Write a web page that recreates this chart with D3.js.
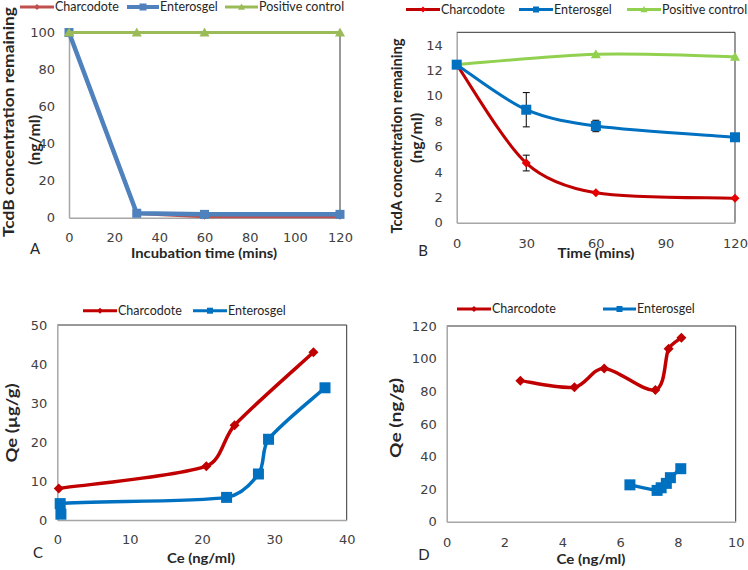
<!DOCTYPE html>
<html><head><meta charset="utf-8">
<script src="https://cdn.jsdelivr.net/npm/d3@7"></script>
<style>body{margin:0;background:#fff}svg{display:block}</style>
</head><body>
<svg id="c" width="748" height="570"></svg>
<script>
// ---------- Panel A data ----------
const timeA = [0, 30, 60, 120];
const tcdbCharcodote = [100, 2.2, 0.5, 0.5];
const tcdbEnterosgel = [100, 2.4, 1.8, 1.8];
const tcdbPositive = [100, 100, 100, 100];
const ticksAx = [0, 20, 40, 60, 80, 100, 120];
const ticksAy = [0, 20, 40, 60, 80, 100];
// ---------- Panel B data ----------
const timeB = [0, 30, 60, 120];
const tcdaCharcodote = [12.45, 4.7, 2.36, 1.92];
const tcdaCharcodoteErr = [0, 0.62, 0, 0];
const tcdaEnterosgel = [12.45, 8.9, 7.62, 6.73];
const tcdaEnterosgelErr = [0, 1.35, 0.45, 0];
const timeBPositive = [0, 60, 120];
const tcdaPositive = [12.45, 13.27, 13.08];
const ticksBx = [0, 30, 60, 90, 120];
const ticksBy = [0, 2, 4, 6, 8, 10, 12, 14];
// ---------- Panel C data ----------
const ceCharcodoteC = [0.2, 20.6, 24.5, 35.4];
const qeCharcodoteC = [8.1, 13.8, 24.3, 43.0];
const ceEnterosgelC = [0.5, 0.4, 23.4, 27.8, 29.2, 37.0];
const qeEnterosgelC = [1.5, 4.2, 5.8, 11.8, 20.7, 33.9];
const ticksCx = [0, 10, 20, 30, 40];
const ticksCy = [0, 10, 20, 30, 40, 50];
// ---------- Panel D data ----------
const ceCharcodoteD = [2.55, 4.42, 5.45, 7.22, 7.68, 8.12];
const qeCharcodoteD = [86.5, 82.5, 94, 80.8, 106, 112.8];
const ceEnterosgelD = [6.34, 7.28, 7.42, 7.6, 7.74, 8.1];
const qeEnterosgelD = [22.6, 19.2, 20.8, 23.5, 27, 32.5];
const ticksDx = [0, 2, 4, 6, 8, 10];
const ticksDy = [0, 20, 40, 60, 80, 100, 120];

const svg = d3.select("#c");
const TICKFONT = "DejaVu Sans, sans-serif";
const TXTFONT = "Lato, sans-serif";

function zip(xs, ys, es) { return xs.map((x, i) => ({x, y: ys[i], e: es ? es[i] : 0})); }

// Excel-like smoothed line: cubic Bezier with control vectors (P[i+1]-P[i-1])/6, clamped to the segment length
function smoothPath(pts) {
  const p = d3.path();
  const n = pts.length;
  p.moveTo(pts[0][0], pts[0][1]);
  const clamp = (t, L) => { const m = Math.hypot(t[0], t[1]); const k = m > L / 3 ? (L / 3) / m : 1; return [t[0] * k, t[1] * k]; };
  for (let i = 0; i < n - 1; i++) {
    const p0 = pts[Math.max(i - 1, 0)], p1 = pts[i], p2 = pts[i + 1], p3 = pts[Math.min(i + 2, n - 1)];
    const L = Math.hypot(p2[0] - p1[0], p2[1] - p1[1]);
    const t1 = clamp([(p2[0] - p0[0]) / 6, (p2[1] - p0[1]) / 6], L);
    const t2 = clamp([(p3[0] - p1[0]) / 6, (p3[1] - p1[1]) / 6], L);
    p.bezierCurveTo(p1[0] + t1[0], p1[1] + t1[1], p2[0] - t2[0], p2[1] - t2[1], p2[0], p2[1]);
  }
  return p.toString();
}

function marker(g, shape, x, y, size, color) {
  if (shape === "square") {
    g.append("rect").attr("x", x - size / 2).attr("y", y - size / 2)
      .attr("width", size).attr("height", size).attr("fill", color);
  } else if (shape === "diamond") {
    const s = size / 2;
    g.append("path").attr("d", `M${x},${y - s}L${x + s},${y}L${x},${y + s}L${x - s},${y}Z`).attr("fill", color);
  } else {
    const s = size / 2;
    g.append("path").attr("d", `M${x},${y - s}L${x + s},${y + s * 0.8}L${x - s},${y + s * 0.8}Z`).attr("fill", color);
  }
}

function panel(cfg) {
  const x = d3.scaleLinear().domain(cfg.xd).range([cfg.x0, cfg.x1]);
  const y = d3.scaleLinear().domain(cfg.yd).range([cfg.y1, cfg.y0]);
  const g = svg.append("g");
  g.append("line").attr("x1", cfg.x0).attr("x2", cfg.x1).attr("y1", cfg.y0).attr("y2", cfg.y0).attr("stroke", "#333").attr("stroke-width", 1);
  g.append("line").attr("x1", cfg.x1).attr("x2", cfg.x1).attr("y1", cfg.y0).attr("y2", cfg.y1).attr("stroke", "#333").attr("stroke-width", 1);
  const ax = d3.axisBottom(x).tickValues(cfg.tx).tickSize(0).tickPadding(cfg.xpad);
  const ay = d3.axisLeft(y).tickValues(cfg.ty).tickSize(0).tickPadding(cfg.ypad);
  const gx = g.append("g").attr("transform", `translate(0,${cfg.y1})`).call(ax);
  const gy = g.append("g").attr("transform", `translate(${cfg.x0},0)`).call(ay);
  [gx, gy].forEach(a => {
    a.select(".domain").attr("stroke", "#a6a6a6").attr("stroke-width", 1.5);
    a.selectAll("text").attr("font-family", TICKFONT).attr("font-size", cfg.tfs).attr("fill", "#404040");
  });
  cfg.series.forEach(s => {
    const pts = s.data;
    const px = pts.map(d => [x(d.x), y(d.y)]);
    const dstr = s.smooth ? smoothPath(px) : d3.line()(px);
    g.append("path").attr("d", dstr).attr("fill", "none").attr("stroke", s.color)
      .attr("stroke-width", s.lw).attr("stroke-linejoin", "round");
    pts.forEach(p => {
      if (p.e) {
        const xx = x(p.x), yt = y(p.y + p.e), yb = y(p.y - p.e);
        g.append("line").attr("x1", xx).attr("x2", xx).attr("y1", yt).attr("y2", yb).attr("stroke", "#000").attr("stroke-width", 1);
        g.append("line").attr("x1", xx - 3.5).attr("x2", xx + 3.5).attr("y1", yt).attr("y2", yt).attr("stroke", "#000").attr("stroke-width", 1);
        g.append("line").attr("x1", xx - 3.5).attr("x2", xx + 3.5).attr("y1", yb).attr("y2", yb).attr("stroke", "#000").attr("stroke-width", 1);
      }
    });
    pts.forEach(p => marker(g, s.shape, x(p.x), y(p.y), s.ms, s.mcolor || s.color));
  });
  cfg.legend.forEach(l => {
    g.append("line").attr("x1", l.lx0).attr("x2", l.lx1).attr("y1", cfg.ly).attr("y2", cfg.ly)
      .attr("stroke", l.color).attr("stroke-width", l.lw);
    marker(g, l.shape, (l.lx0 + l.lx1) / 2, cfg.ly, l.ms, l.mcolor || l.color);
    g.append("text").attr("x", l.lx1 + 1).attr("y", cfg.ly + 4).text(l.text)
      .attr("font-family", TXTFONT).attr("font-size", 12.5).attr("fill", "#262626");
  });
  g.append("text").attr("x", cfg.xtx).attr("y", cfg.xty).attr("text-anchor", "middle")
    .attr("font-family", TXTFONT).attr("font-weight", "bold").attr("font-size", cfg.xtfs).attr("fill", "#262626")
    .attr("textLength", cfg.xtl).attr("lengthAdjust", "spacingAndGlyphs").text(cfg.xtitle);
  cfg.ytitle.forEach((t, i) => {
    g.append("text").attr("transform", `translate(${cfg.ytx[i]},${cfg.yty[i]}) rotate(-90)`).attr("text-anchor", "middle")
      .attr("font-family", TXTFONT).attr("font-weight", "bold").attr("font-size", cfg.ytfs).attr("fill", "#262626")
      .attr("textLength", cfg.ytl[i]).attr("lengthAdjust", "spacingAndGlyphs").text(t);
  });
  g.append("text").attr("x", cfg.lab[0]).attr("y", cfg.lab[1]).attr("text-anchor", "middle")
    .attr("font-family", TXTFONT).attr("font-size", 15).attr("fill", "#262626").text(cfg.label);
}

// Panel A
panel({
  x0: 69, x1: 340, y0: 32.5, y1: 217.7, xd: [0, 120], yd: [0, 100], tx: ticksAx, ty: ticksAy,
  xpad: 15.5, ypad: 14, tfs: 13,
  series: [
    {data: zip(timeA, tcdbCharcodote), color: "#c0504d", lw: 3, shape: "diamond", ms: 6, smooth: false},
    {data: zip(timeA, tcdbEnterosgel), color: "#4f81bd", lw: 4.5, shape: "square", ms: 9, smooth: false},
    {data: zip(timeA, tcdbPositive), color: "#9bbb59", lw: 3, shape: "triangle", ms: 10, smooth: false}
  ],
  ly: 7,
  legend: [
    {lx0: 20, lx1: 54, color: "#c0504d", lw: 3, shape: "diamond", ms: 6, text: "Charcodote"},
    {lx0: 127, lx1: 159, color: "#4f81bd", lw: 4, shape: "square", ms: 7, text: "Enterosgel"},
    {lx0: 225, lx1: 258, color: "#9bbb59", lw: 3, shape: "triangle", ms: 7, text: "Positive control"}
  ],
  xtitle: "Incubation time (mins)", xtx: 204, xty: 258, xtfs: 14, xtl: 146,
  ytitle: ["TcdB concentration remaining", "(ng/ml)"], ytx: [13.5, 40], yty: [122, 140], ytfs: 15, ytl: [230, 50],
  label: "A", lab: [35, 254]
});

// Panel B
panel({
  x0: 456.7, x1: 735, y0: 32.3, y1: 222.7, xd: [0, 120], yd: [0, 15], tx: ticksBx, ty: ticksBy,
  xpad: 16, ypad: 14, tfs: 13,
  series: [
    {data: zip(timeBPositive, tcdaPositive), color: "#92d050", lw: 3, shape: "triangle", ms: 10, smooth: true},
    {data: zip(timeB, tcdaCharcodote, tcdaCharcodoteErr), color: "#c00000", mcolor: "#e60000", lw: 3, shape: "diamond", ms: 9, smooth: true},
    {data: zip(timeB, tcdaEnterosgel, tcdaEnterosgelErr), color: "#0070c0", lw: 3, shape: "square", ms: 10, smooth: true}
  ],
  ly: 9.5,
  legend: [
    {lx0: 406, lx1: 440, color: "#c00000", mcolor: "#e60000", lw: 3, shape: "diamond", ms: 6, text: "Charcodote"},
    {lx0: 519, lx1: 553, color: "#0070c0", lw: 3, shape: "square", ms: 6, text: "Enterosgel"},
    {lx0: 627, lx1: 661, color: "#92d050", lw: 3, shape: "triangle", ms: 7, text: "Positive control"}
  ],
  xtitle: "Time (mins)", xtx: 596, xty: 258, xtfs: 14, xtl: 77,
  ytitle: ["TcdA concentration remaining", "(ng/ml)"], ytx: [402, 422], yty: [136, 138], ytfs: 14.5, ytl: [195, 50],
  label: "B", lab: [423, 256]
});

// Panel C
panel({
  x0: 57.3, x1: 346.7, y0: 325, y1: 520, xd: [0, 40], yd: [0, 50], tx: ticksCx, ty: ticksCy,
  xpad: 14.5, ypad: 10, tfs: 13,
  series: [
    {data: zip(ceCharcodoteC, qeCharcodoteC), color: "#c00000", lw: 3.5, shape: "diamond", ms: 10, smooth: true},
    {data: zip(ceEnterosgelC, qeEnterosgelC), color: "#0070c0", lw: 3.5, shape: "square", ms: 11, smooth: true}
  ],
  ly: 310.7,
  legend: [
    {lx0: 83, lx1: 117, color: "#c00000", lw: 3, shape: "diamond", ms: 6, text: "Charcodote"},
    {lx0: 193, lx1: 227, color: "#0070c0", lw: 3, shape: "square", ms: 6, text: "Enterosgel"}
  ],
  xtitle: "Ce (ng/ml)", xtx: 201, xty: 563, xtfs: 14, xtl: 68,
  ytitle: ["Qe (µg/g)"], ytx: [16.5], yty: [423], ytfs: 14.5, ytl: [79],
  label: "C", lab: [38, 558]
});

// Panel D
panel({
  x0: 446.7, x1: 735.7, y0: 326, y1: 521.7, xd: [0, 10], yd: [0, 120], tx: ticksDx, ty: ticksDy,
  xpad: 16.5, ypad: 10, tfs: 13,
  series: [
    {data: zip(ceCharcodoteD, qeCharcodoteD), color: "#c00000", lw: 3.5, shape: "diamond", ms: 10, smooth: true},
    {data: zip(ceEnterosgelD, qeEnterosgelD), color: "#0070c0", lw: 3.5, shape: "square", ms: 11, smooth: true}
  ],
  ly: 309,
  legend: [
    {lx0: 457, lx1: 491, color: "#c00000", lw: 3, shape: "diamond", ms: 6, text: "Charcodote"},
    {lx0: 603, lx1: 636, color: "#0070c0", lw: 3, shape: "square", ms: 6, text: "Enterosgel"}
  ],
  xtitle: "Ce (ng/ml)", xtx: 591, xty: 564, xtfs: 14, xtl: 69,
  ytitle: ["Qe (ng/g)"], ytx: [400.5], yty: [418], ytfs: 14.5, ytl: [80],
  label: "D", lab: [424, 560]
});
</script>
</body></html>
